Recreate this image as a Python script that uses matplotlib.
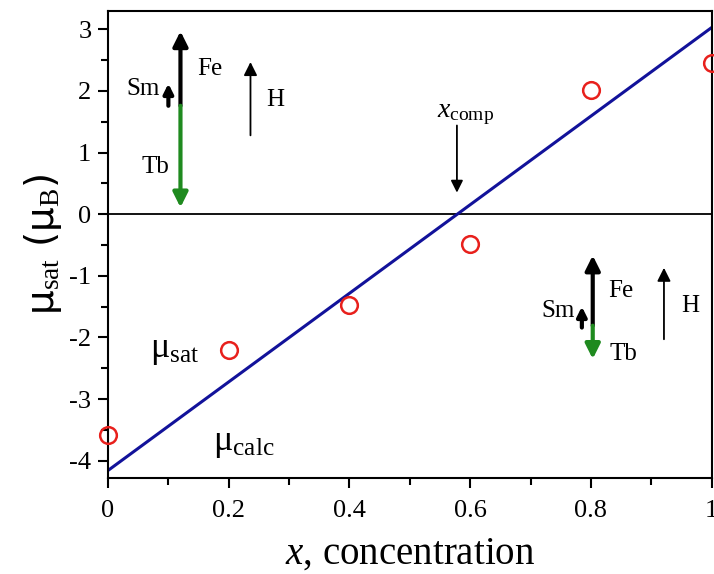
import matplotlib
matplotlib.use('Agg')
import matplotlib.pyplot as plt
from matplotlib.ticker import MultipleLocator

plt.rcParams['font.family'] = ['Liberation Serif', 'DejaVu Serif']
plt.rcParams['mathtext.fontset'] = 'custom'
plt.rcParams['mathtext.rm'] = 'Liberation Serif'
plt.rcParams['mathtext.it'] = 'Liberation Serif:italic'
plt.rcParams['axes.unicode_minus'] = False

# measured saturation moments
x_conc = [0.0, 0.2, 0.4, 0.6, 0.8, 1.0]
mu_sat = [-3.58, -2.20, -1.47, -0.48, 2.02, 2.45]

# calculated line (end points)
x_calc = [0.0, 1.0]
mu_calc = [-4.16, 3.03]

x_ticks = [0, 0.2, 0.4, 0.6, 0.8, 1]
x_ticklabels = ['0', '0.2', '0.4', '0.6', '0.8', '1']
y_ticks = [-4, -3, -2, -1, 0, 1, 2, 3]

fig = plt.figure(figsize=(7.14, 5.74), dpi=100)
ax = fig.add_axes([0.1513, 0.1675, 0.8454, 0.8135])

ax.axhline(0, color='black', lw=1.3, zorder=1)
ax.plot(x_calc, mu_calc, color='#12129a', lw=2.2, zorder=2)
ax.plot(x_conc, mu_sat, 'o', ms=12, mfc='none', mec='#e8201c', mew=1.8,
        clip_on=False, zorder=3)

ax.set_xlim(0, 1)
ax.set_ylim(-4.28, 3.30)
ax.set_xticks(x_ticks)
ax.set_xticklabels(x_ticklabels)
ax.set_yticks(y_ticks)
ax.xaxis.set_minor_locator(MultipleLocator(0.1))
ax.yaxis.set_minor_locator(MultipleLocator(0.5))
ax.tick_params(which='both', direction='out', width=1.5, labelsize=19,
               top=False, right=False)
ax.tick_params(which='major', length=7)
ax.tick_params(which='minor', length=5)
ax.tick_params(axis='x', pad=9)
ax.tick_params(axis='y', pad=5)
for s in ax.spines.values():
    s.set_linewidth(1.5)

ax.set_xlabel(r'$\mathit{x}$, concentration', fontsize=28, labelpad=10)
ax.set_ylabel(r'μ$_{\mathrm{sat}}$ (μ$_{\mathrm{B}}$)', fontsize=28,
              family=['DejaVu Sans'], labelpad=4)


def arrow(x, y0, y1, color='black', lw=3.0, ms=22):
    ax.annotate('', xy=(x, y1), xytext=(x, y0),
                arrowprops=dict(arrowstyle='-|>', color=color, lw=lw,
                                mutation_scale=ms, shrinkA=0, shrinkB=0))


# upper-left spin picture
arrow(0.120, 1.76, 2.97)
arrow(0.120, 1.76, 0.11, color='#1f8a1f')
arrow(0.100, 1.76, 2.12, lw=3.0, ms=14)
arrow(0.236, 1.28, 2.47, lw=1.3, ms=20)
ax.text(0.148, 2.35, 'Fe', fontsize=18, va='center')
ax.text(0.086, 2.04, 'Sm', fontsize=18, va='center', ha='right')
ax.text(0.262, 1.85, 'H', fontsize=18, va='center')
ax.text(0.056, 0.76, 'Tb', fontsize=18, va='center')

# lower-right spin picture
arrow(0.803, -1.81, -0.67)
arrow(0.803, -1.81, -2.35, color='#1f8a1f')
arrow(0.785, -1.84, -1.50, lw=3.0, ms=14)
arrow(0.921, -2.03, -0.87, lw=1.3, ms=20)
ax.text(0.828, -1.24, 'Fe', fontsize=18, va='center')
ax.text(0.773, -1.57, 'Sm', fontsize=18, va='center', ha='right')
ax.text(0.950, -1.49, 'H', fontsize=18, va='center')
ax.text(0.830, -2.27, 'Tb', fontsize=18, va='center')

# compensation point
arrow(0.578, 1.44, 0.35, lw=1.3, ms=18)
ax.text(0.593, 1.62, r'$\mathit{x}_{\mathrm{comp}}$', fontsize=20,
        ha='center', va='center')

ax.text(0.110, -2.22, r'μ$_{\mathrm{sat}}$', fontsize=26, ha='center',
        va='center')
ax.text(0.225, -3.73, r'μ$_{\mathrm{calc}}$', fontsize=26, ha='center',
        va='center')

fig.savefig('out.png', dpi=100)
